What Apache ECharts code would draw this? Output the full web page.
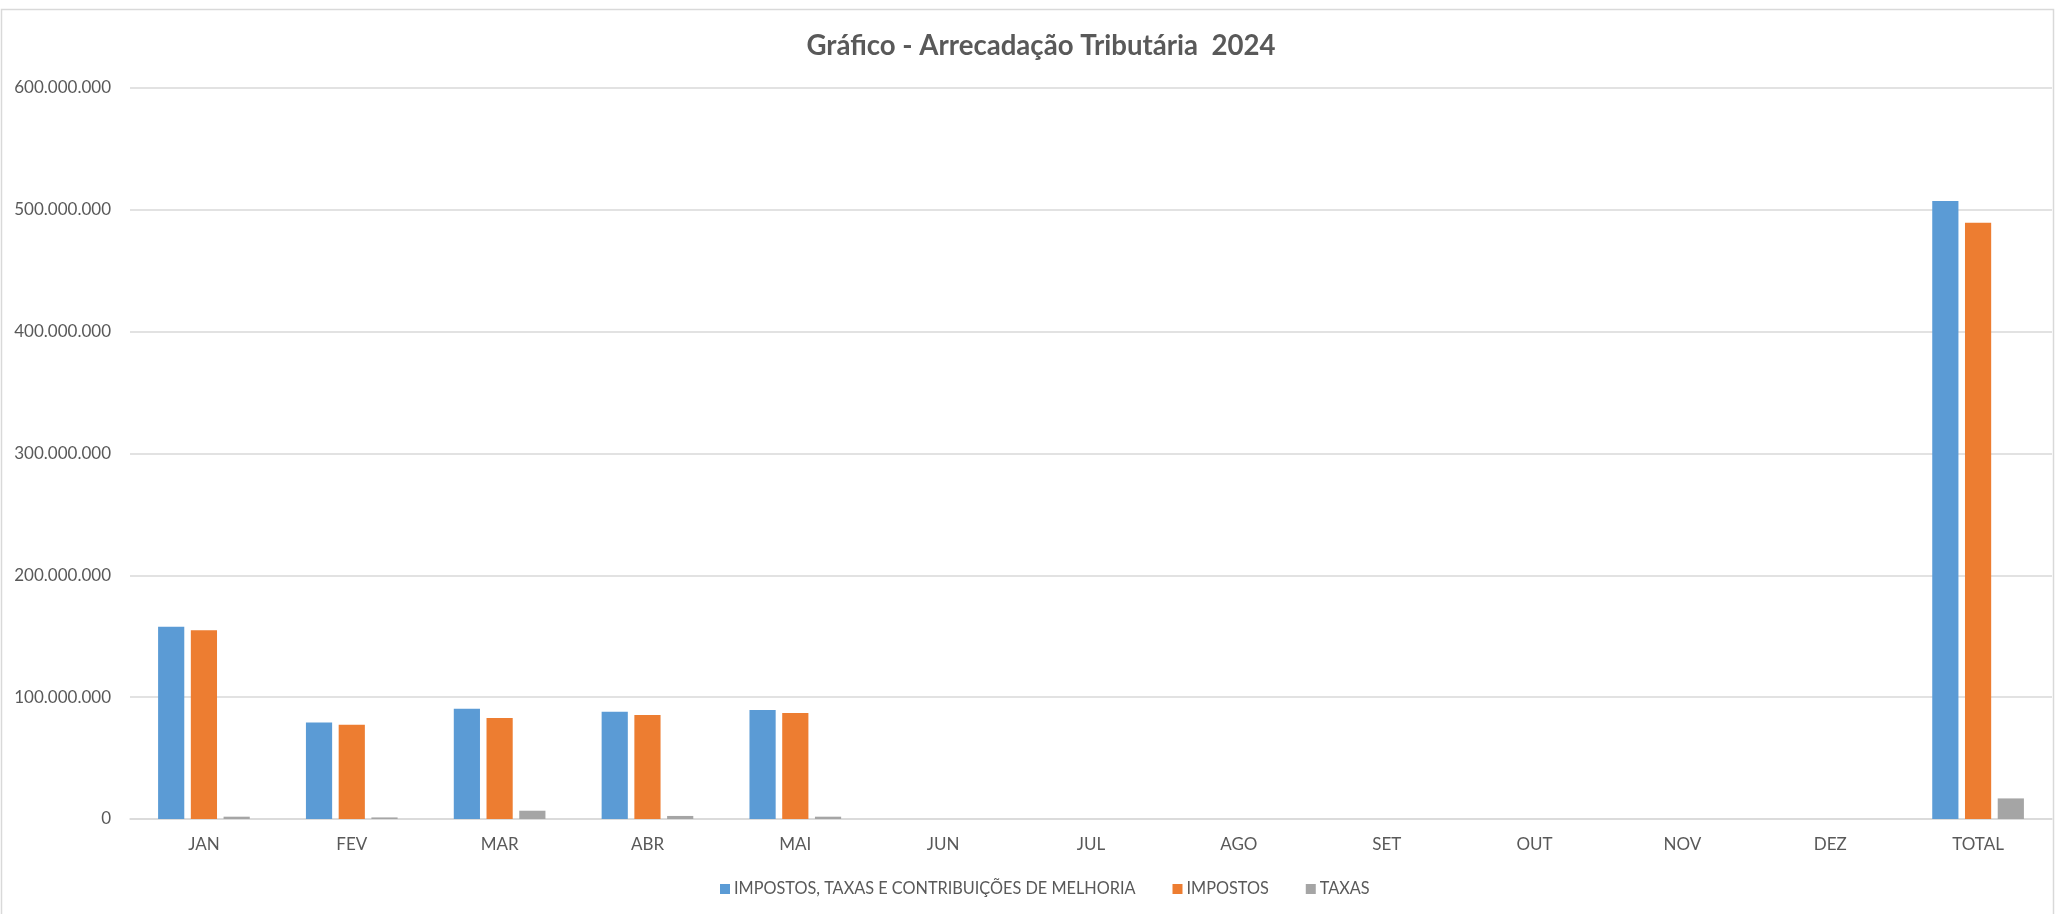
<!DOCTYPE html>
<html>
<head>
<meta charset="utf-8">
<script src="https://cdn.jsdelivr.net/npm/echarts@6/dist/echarts.min.js"></script>
<style>
html,body{margin:0;padding:0;background:#fff;}
#chart{width:2056px;height:914px;}
</style>
</head>
<body>
<div id="chart"></div>
<script>
const categories = ['JAN','FEV','MAR','ABR','MAI','JUN','JUL','AGO','SET','OUT','NOV','DEZ','TOTAL'];
const seriesNames = ['IMPOSTOS, TAXAS E CONTRIBUIÇÕES DE MELHORIA','IMPOSTOS','TAXAS'];
const totalArrecadacao = [157800000, 79300000, 90500000, 88000000, 89400000, null, null, null, null, null, null, null, 507200000];
const impostos = [155000000, 77400000, 83000000, 85300000, 87000000, null, null, null, null, null, null, null, 489400000];
const taxas = [1900000, 1300000, 6800000, 2500000, 1900000, null, null, null, null, null, null, null, 16900000];
const yTicks = [0, 100000000, 200000000, 300000000, 400000000, 500000000, 600000000];
const colors = ['#5B9BD5','#ED7D31','#A5A5A5'];

const FONT = 'Lato, "Noto Sans", sans-serif';
const chart = echarts.init(document.getElementById('chart'), null, {renderer:'canvas'});
function fmt(v){ return String(Math.round(v)).replace(/\B(?=(\d{3})+(?!\d))/g, '.'); }

chart.setOption({
  animation:false,
  backgroundColor:'#fff',
  color: colors,
  title:{
    text:'Gráfico - Arrecadação Tributária  2024',
    left: 1036, top: 27, textAlign:'center',
    textStyle:{fontFamily:FONT, fontWeight:'bold', fontSize:27.6, color:'#595959'}
  },
  legend:{
    left: 715, top: 876,
    itemWidth:10, itemHeight:10, itemGap:37,
    icon:'rect',
    textStyle:{fontFamily:FONT, fontSize:16.3, color:'#595959', padding:[0,0,0,-1]},
    data: seriesNames
  },
  grid:{left:130, right:4, top:88, bottom:95, containLabel:false},
  xAxis:{
    type:'category', data:categories,
    axisLine:{lineStyle:{color:'#D9D9D9', width:1.5}},
    axisTick:{show:false},
    axisLabel:{fontFamily:FONT, fontSize:17, color:'#595959', margin:17}
  },
  yAxis:{
    type:'value', min:yTicks[0], max:yTicks[yTicks.length-1], interval:yTicks[1]-yTicks[0],
    axisLine:{show:false}, axisTick:{show:false},
    splitLine:{lineStyle:{color:'#D9D9D9', width:1.5}},
    axisLabel:{fontFamily:FONT, fontSize:17, color:'#595959', margin:19, formatter:fmt}
  },
  graphic:[{
    type:'rect', silent:true, z:-1,
    shape:{x:1.5, y:9.5, width:2052, height:910},
    style:{fill:'none', stroke:'#D9D9D9', lineWidth:1.5}
  }],
  series:[
    {name:seriesNames[0], type:'bar', data:totalArrecadacao, barGap:'25%', barCategoryGap:'38%'},
    {name:seriesNames[1], type:'bar', data:impostos, barGap:'25%', barCategoryGap:'38%'},
    {name:seriesNames[2], type:'bar', data:taxas, barGap:'25%', barCategoryGap:'38%'}
  ]
});
</script>
</body>
</html>
